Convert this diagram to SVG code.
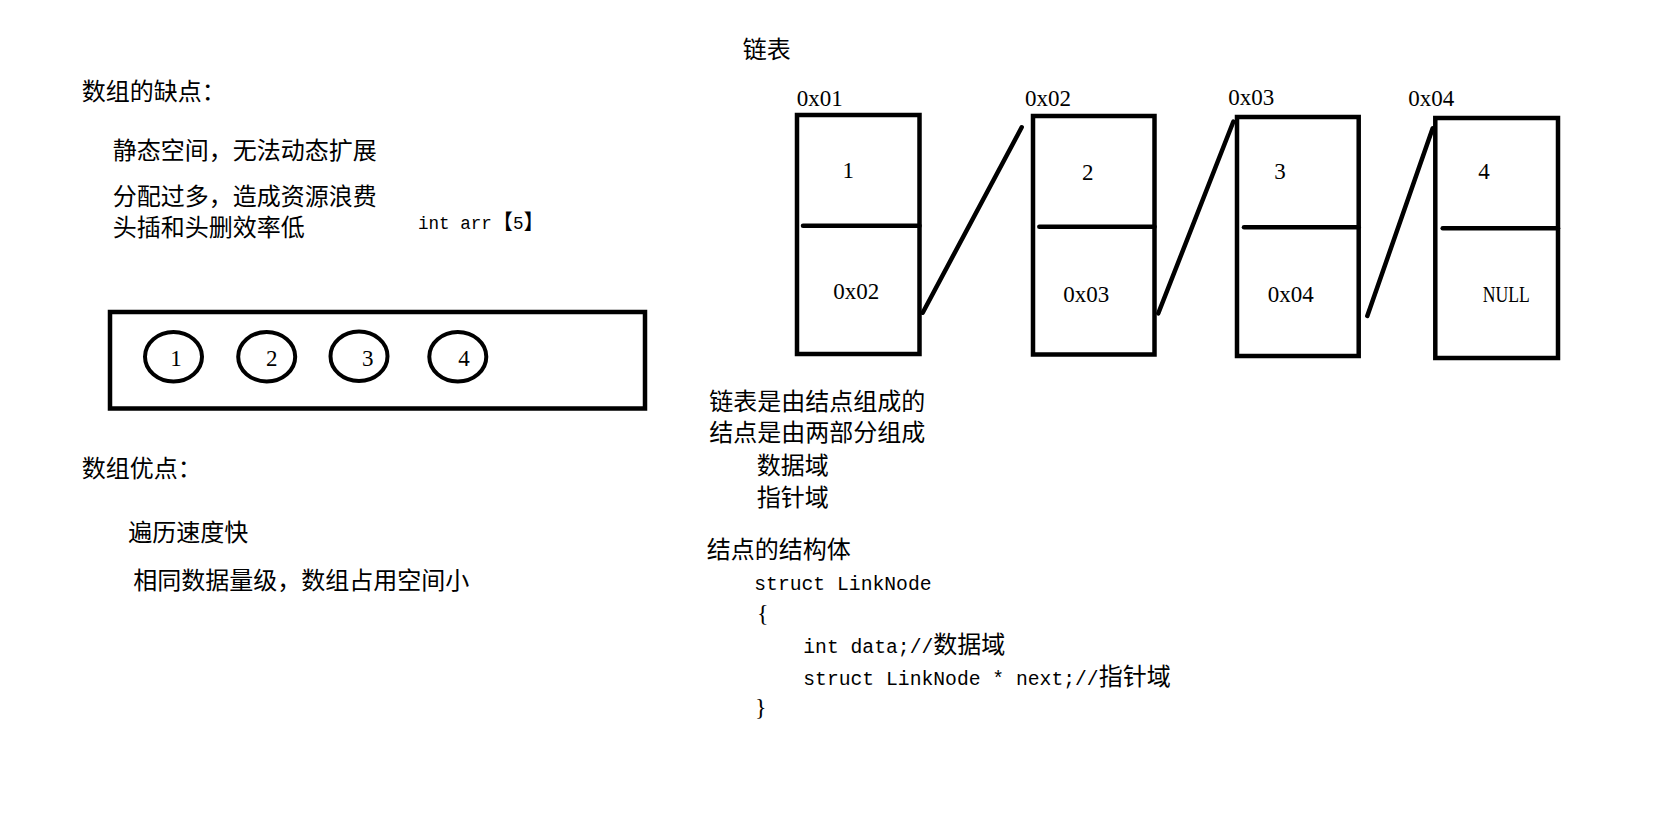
<svg xmlns="http://www.w3.org/2000/svg" width="1674" height="830" viewBox="0 0 1674 830">
  <style>
    .cn { font-family: "Noto Sans CJK SC", "Noto Sans CJK TC", sans-serif; font-size: 24px; fill: #000; }
    .num { font-family: "Liberation Serif", "Noto Sans CJK SC", serif; font-size: 23px; fill: #000; }
    .code { font-family: "Liberation Mono", "Noto Sans CJK SC", monospace; font-size: 19.7px; fill: #000; }
    .z { font-family: "Noto Sans CJK SC", "Noto Sans CJK TC", sans-serif; font-size: 24px; }
    .box { fill: none; stroke: #000; stroke-width: 4.5; }
    .div { stroke: #000; stroke-width: 4.5; stroke-linecap: round; }
    .link { stroke: #000; stroke-width: 4.5; stroke-linecap: round; fill: none; }
    .ring { fill: none; stroke: #000; stroke-width: 4; }
  </style>
  <rect width="1674" height="830" fill="#fff"/>

  <g id="array-notes">
    <text class="cn" x="81.7" y="100">数组的缺点：</text>
    <text class="cn" x="112.7" y="158.7">静态空间，无法动态扩展</text>
    <text class="cn" x="112.7" y="204.7">分配过多，造成资源浪费</text>
    <text class="cn" x="112.7" y="235.5">头插和头删效率低</text>
    <text class="code" x="418" y="229" style="font-size:17.6px">int arr<tspan class="z" style="font-size:21px">【</tspan>5<tspan class="z" style="font-size:21px">】</tspan></text>
    <text class="cn" x="81.7" y="477">数组优点：</text>
    <text class="cn" x="128.3" y="541">遍历速度快</text>
    <text class="cn" x="133.3" y="589">相同数据量级，数组占用空间小</text>
  </g>

  <g id="array">
    <rect class="box" x="110" y="312" width="535" height="96.5"/>
    <g id="elem1"><ellipse class="ring" cx="173.5" cy="356.7" rx="28.5" ry="24.7"/><text class="num" x="176" y="366" text-anchor="middle">1</text></g>
    <g id="elem2"><ellipse class="ring" cx="266.7" cy="356.7" rx="28.5" ry="24.7"/><text class="num" x="271.7" y="366" text-anchor="middle">2</text></g>
    <g id="elem3"><ellipse class="ring" cx="359" cy="356.2" rx="28.5" ry="24.7"/><text class="num" x="367.7" y="366" text-anchor="middle">3</text></g>
    <g id="elem4"><ellipse class="ring" cx="457.8" cy="356.7" rx="28.5" ry="24.7"/><text class="num" x="464" y="366" text-anchor="middle">4</text></g>
  </g>

  <g id="list-title">
    <text class="cn" x="742.7" y="58">链表</text>
  </g>

  <g id="node1">
    <text class="num" x="796.7" y="106">0x01</text>
    <rect class="box" x="797" y="115" width="122.5" height="239"/>
    <line class="div" x1="803" y1="225.7" x2="919.5" y2="225.7"/>
    <text class="num" x="848.3" y="177.7" text-anchor="middle">1</text>
    <text class="num" x="833.3" y="299.3">0x02</text>
  </g>
  <g id="node2">
    <text class="num" x="1025" y="106">0x02</text>
    <rect class="box" x="1033" y="116" width="121.5" height="238.5"/>
    <line class="div" x1="1039.3" y1="226.7" x2="1154.5" y2="226.7"/>
    <text class="num" x="1087.7" y="180" text-anchor="middle">2</text>
    <text class="num" x="1063.3" y="301.7">0x03</text>
  </g>
  <g id="node3">
    <text class="num" x="1228.3" y="105">0x03</text>
    <rect class="box" x="1237" y="117" width="121.7" height="239"/>
    <line class="div" x1="1244" y1="227.3" x2="1358.7" y2="227.3"/>
    <text class="num" x="1280" y="179" text-anchor="middle">3</text>
    <text class="num" x="1267.7" y="301.7">0x04</text>
  </g>
  <g id="node4">
    <text class="num" x="1408.3" y="106">0x04</text>
    <rect class="box" x="1435.3" y="118" width="122.7" height="240"/>
    <line class="div" x1="1442.7" y1="228.3" x2="1558" y2="228.3"/>
    <text class="num" x="1484" y="179.3" text-anchor="middle">4</text>
    <text class="num" x="1482.7" y="301.7" textLength="47" lengthAdjust="spacingAndGlyphs">NULL</text>
  </g>

  <g id="connectors">
    <line class="link" x1="922.7" y1="312.7" x2="1021.7" y2="127.3"/>
    <line class="link" x1="1158.3" y1="313.3" x2="1233.3" y2="121.7"/>
    <line class="link" x1="1367.3" y1="316" x2="1432.7" y2="128.3"/>
  </g>

  <g id="list-notes">
    <text class="cn" x="709.3" y="409.7">链表是由结点组成的</text>
    <text class="cn" x="709.3" y="441.3">结点是由两部分组成</text>
    <text class="cn" x="756.7" y="473.7">数据域</text>
    <text class="cn" x="756.7" y="505.7">指针域</text>
    <text class="cn" x="706.7" y="558">结点的结构体</text>
  </g>

  <g id="struct-code">
    <text class="code" x="754.3" y="590">struct LinkNode</text>
    <text class="num" x="757" y="621" style="font-size:24px">{</text>
    <text class="code" x="803.3" y="653.3">int data;//<tspan class="z">数据域</tspan></text>
    <text class="code" x="803.3" y="685">struct LinkNode * next;//<tspan class="z">指针域</tspan></text>
    <text class="num" x="755" y="715" style="font-size:24px">}</text>
  </g>
</svg>
